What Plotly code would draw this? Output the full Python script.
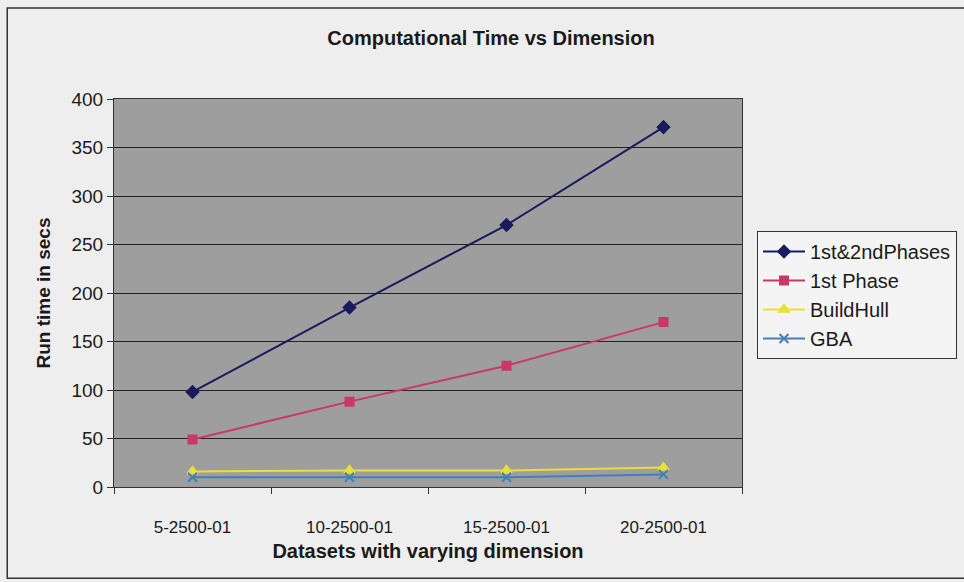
import plotly.graph_objects as go

categories = ["5-2500-01", "10-2500-01", "15-2500-01", "20-2500-01"]
both_phases = [98, 185, 270, 371]
first_phase = [49, 88, 125, 170]
build_hull = [16, 17, 17, 20]
gba = [10, 10, 10, 13]

series = [
    ("1st&2ndPhases", both_phases, "#1a1a5e", "diamond", 9),
    ("1st Phase", first_phase, "#c8386a", "square", 8),
    ("BuildHull", build_hull, "#e8df3a", "triangle-up", 9),
    ("GBA", gba, "#3f80b8", "x-thin", 9),
]

fig = go.Figure()
for name, vals, color, sym, size in series:
    fig.add_trace(go.Scatter(
        x=categories, y=vals, name=name, mode="lines+markers",
        line=dict(color=color, width=2),
        marker=dict(symbol=sym, size=size, color=color,
                    line=dict(color=color, width=2)),
    ))

fig.update_layout(
    width=964, height=582,
    margin=dict(l=114, r=222, t=99, b=95, autoexpand=False),
    paper_bgcolor="#eeeeee",
    plot_bgcolor="#9e9e9e",
    font=dict(family="Liberation Sans, Arial, sans-serif", size=17, color="#1a1a1a"),
    title=dict(text="<b>Computational Time vs Dimension</b>", x=491 / 964, xref="container",
               xanchor="center", y=1 - 38 / 582, yanchor="middle", font=dict(size=20)),
    showlegend=True,
    legend=dict(x=757 / 964, y=0.495, xref="container", xanchor="left", yanchor="middle",
                bgcolor="#f4f4f4", bordercolor="#333333", borderwidth=1,
                font=dict(size=20), tracegroupgap=0, itemwidth=42),
    xaxis=dict(
        type="category", range=[-0.5, 3.5], tickson="boundaries", ticks="outside",
        ticklen=6, tickcolor="#333333", showgrid=False, showline=True,
        linecolor="#333333", mirror=True, linewidth=1, tickfont=dict(size=17),
        ticklabelstandoff=25,
        title=dict(text="<b>Datasets with varying dimension</b>", font=dict(size=20), standoff=7),
    ),
    yaxis=dict(
        range=[0, 400], dtick=50, ticks="outside", ticklen=6, tickcolor="#333333",
        showgrid=True, gridcolor="#222222", gridwidth=1, showline=True,
        linecolor="#333333", mirror=True, zeroline=False, tickfont=dict(size=19),
        title=dict(text="<b>Run time in secs</b>", font=dict(size=19), standoff=15),
    ),
    shapes=[dict(type="rect", xref="paper", yref="paper",
                 x0=-0.170, x1=1.40, y0=-0.235, y1=1.2345,
                 line=dict(color="#333333", width=1.5), layer="below")],
)

fig.write_html("out.html")
